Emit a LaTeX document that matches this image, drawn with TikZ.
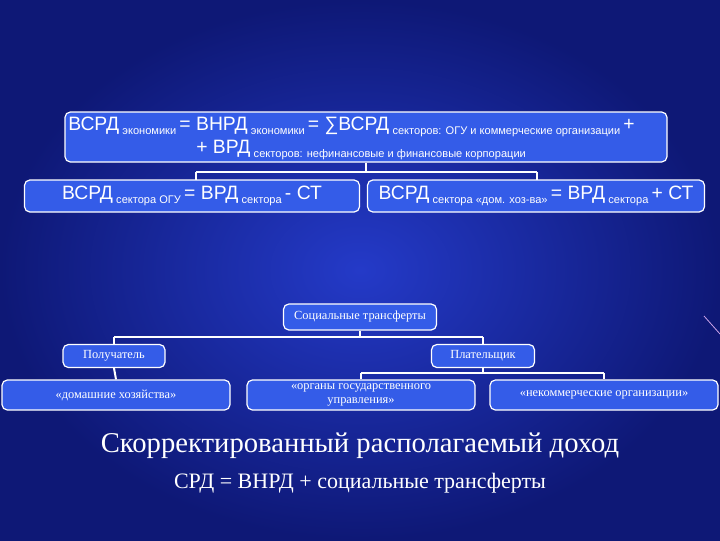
\documentclass[tikz,border=0pt]{standalone}
\usepackage{fontspec}
\setmainfont{Liberation Serif}
\newfontfamily\arialf{Liberation Sans}
\newcommand{\lo}[1]{\,{\fontsize{8.3}{9}\selectfont\raisebox{-2.8pt}{#1}}\,}
\definecolor{boxc}{RGB}{52,92,232}
\definecolor{pinkl}{RGB}{200,160,230}
\definecolor{bgin}{RGB}{36,58,200}
\definecolor{bgout}{RGB}{14,24,118}
\begin{document}
\begin{tikzpicture}[x=0.75pt,y=-0.75pt,
  bx/.style={draw=white,line width=0.9pt,rounded corners=4pt,fill=boxc,text=white,inner sep=2pt},
  ln/.style={draw=white,line width=1.5pt}]
\useasboundingbox (0,0) rectangle (720,540);
\shade[inner color=bgin,outer color=bgout] (0,0) rectangle (720,540);
\draw[pinkl,line width=0.6pt] (704,316) -- (720,334);
% top
\node[bx,minimum width=602*0.75pt,minimum height=50*0.75pt] (top) at (366,137) {};
\node[text=white,font=\arialf\fontsize{14.5}{15}\selectfont,anchor=west,inner sep=0pt] (t1) at (68,127) {ВСРД\lo{экономики}= ВНРД\lo{экономики}= ∑ВСРД\lo{секторов: ОГУ и коммерческие организации}+};
\node[text=white,font=\arialf\fontsize{14.5}{15}\selectfont,anchor=west,inner sep=0pt] (t2) at (196,150) {+ ВРД\lo{секторов: нефинансовые и финансовые корпорации}};
\node[bx,minimum width=335*0.75pt,minimum height=32*0.75pt,font=\arialf\fontsize{14.5}{15}\selectfont] (l) at (192,196) {ВСРД\lo{сектора ОГУ}= ВРД\lo{сектора}- СТ};
\node[bx,minimum width=337*0.75pt,minimum height=32*0.75pt,font=\arialf\fontsize{14.5}{15}\selectfont] (r) at (536,196) {ВСРД\lo{сектора «дом. хоз-ва»}= ВРД\lo{сектора}+ СТ};
\coordinate (j1) at (366,172);
\draw[ln] (top.south) -- (j1) (196,172) -- (537,172);
\draw[ln] (196,172) -- (196,180) (537,172) -- (537,180);
% social
\tikzset{sm/.style={bx,font=\fontsize{9.3}{11}\selectfont,align=center}}
\node[sm,minimum width=153*0.75pt,minimum height=26*0.75pt] (s) at (360,317) {Социальные трансферты};
\node[sm,minimum width=102*0.75pt,minimum height=23*0.75pt] (p) at (114,356) {Получатель};
\node[sm,minimum width=103*0.75pt,minimum height=23*0.75pt] (q) at (483,356) {Плательщик};
\node[sm,minimum width=228*0.75pt,minimum height=30*0.75pt] (d) at (116,395) {«домашние хозяйства»};
\node[sm,minimum width=228*0.75pt,minimum height=30*0.75pt] (o) at (361,395) {«органы государственного\\управления»};
\node[sm,minimum width=228*0.75pt,minimum height=30*0.75pt] (n) at (604,395) {«некоммерческие организации»};
\draw[ln] (s.south) -- (360,337) (114,337) -- (483,337) (114,337) -- (p.north) (483,337) -- (q.north);
\draw[ln] (p.south) -- (d.north);
\draw[ln] (q.south) -- (483,373) (361,373) -- (604,373) (361,373) -- (o.north) (604,373) -- (n.north);
\node[text=white,font=\fontsize{21.5}{24}\selectfont] (h) at (360,446) {Скорректированный располагаемый доход};
\node[text=white,font=\fontsize{16.5}{19}\selectfont] (f) at (360,483) {СРД = ВНРД + социальные трансферты};
\end{tikzpicture}
\end{document}
